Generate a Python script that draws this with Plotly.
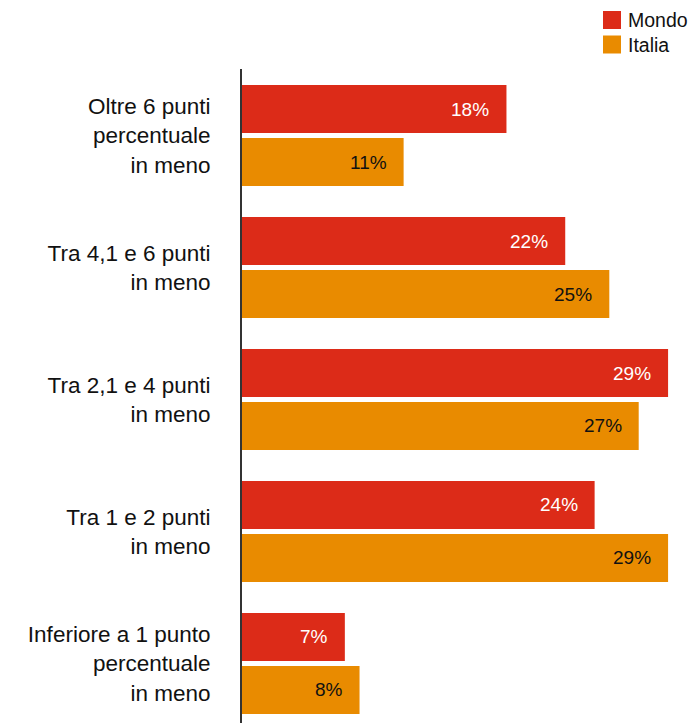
import plotly.graph_objects as go

# Data
categories = [
    "Oltre 6 punti<br>percentuale<br>in meno",
    "Tra 4,1 e 6 punti<br>in meno",
    "Tra 2,1 e 4 punti<br>in meno",
    "Tra 1 e 2 punti<br>in meno",
    "Inferiore a 1 punto<br>percentuale<br>in meno",
]
series_names = ["Mondo", "Italia"]
mondo = [18, 22, 29, 24, 7]
italia = [11, 25, 27, 29, 8]

colors = {"Mondo": "#DC2B18", "Italia": "#E98B00"}
label_colors = {"Mondo": "#FFFFFF", "Italia": "#111111"}

FONT = "Liberation Sans, Arial, Helvetica, sans-serif"
W, H = 691, 723
ML, MR, MT, MB = 242, 0, 69, 0
BARGAP, GROUPGAP = 0.197, 0.094

fig = go.Figure()
values = {"Mondo": mondo, "Italia": italia}
for name in series_names:
    fig.add_trace(go.Bar(
        y=categories, x=values[name], orientation="h", name=name,
        marker=dict(color=colors[name], line=dict(width=0)),
        showlegend=False, hoverinfo="skip",
    ))

# value labels, right-aligned inside each bar
slot = (1 - BARGAP) / 2
annotations = []
for k, name in enumerate(series_names):
    offset = (k - 0.5) * slot
    for i, v in enumerate(values[name]):
        annotations.append(dict(
            x=v, y=i + offset, xref="x", yref="y",
            text=f"{v}%", showarrow=False, xanchor="right", yanchor="middle",
            xshift=-15, font=dict(family=FONT, size=19, color=label_colors[name]),
        ))

# legend drawn as squares + text in the top-right corner
plot_w, plot_h = W - ML - MR, H - MT - MB
def px_x(p):
    return (p - ML) / plot_w
def px_y(p):
    return (H - MB - p) / plot_h

shapes = []
for k, name in enumerate(series_names):
    top = 11 + k * 24.5
    shapes.append(dict(
        type="rect", xref="paper", yref="paper",
        x0=px_x(603), x1=px_x(621), y0=px_y(top + 18), y1=px_y(top),
        fillcolor=colors[name], line=dict(width=0),
    ))
    annotations.append(dict(
        x=px_x(626), y=px_y(top + 9), xref="paper", yref="paper",
        text=name, showarrow=False, xanchor="left", yanchor="middle",
        font=dict(family=FONT, size=19.5, color="#111111"),
    ))

fig.update_layout(
    width=W, height=H,
    margin=dict(l=ML, r=MR, t=MT, b=MB, pad=0),
    paper_bgcolor="white", plot_bgcolor="white",
    barmode="group", bargap=BARGAP, bargroupgap=GROUPGAP,
    font=dict(family=FONT, color="#111111"),
    xaxis=dict(range=[0, 30.56], showgrid=False, zeroline=False,
               showticklabels=False, showline=False, fixedrange=True),
    yaxis=dict(range=[4.451, -0.504], showgrid=False, zeroline=False,
               showline=True, linecolor="#333333", linewidth=2,
               ticks="", ticklabelstandoff=25,
               tickfont=dict(family=FONT, size=22.5, color="#111111")),
    shapes=shapes, annotations=annotations,
)

fig.write_html("out.html", config={"displayModeBar": False})
